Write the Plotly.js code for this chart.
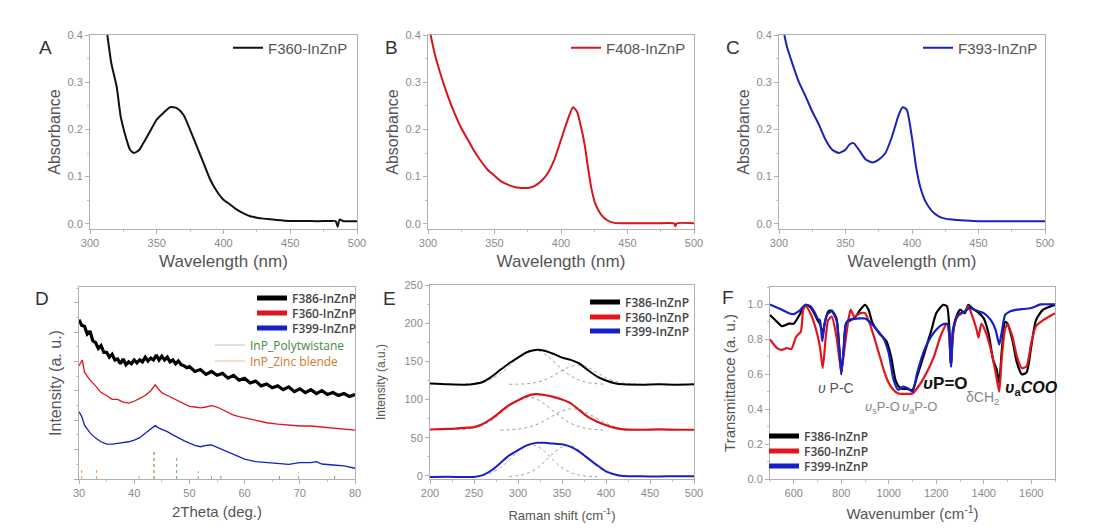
<!DOCTYPE html>
<html><head><meta charset="utf-8">
<script src="https://cdn.plot.ly/plotly-3.0.1.min.js"></script>
<style>html,body{margin:0;padding:0;background:#fff}#plot{width:1106px;height:531px}</style>
</head><body><div id="plot"></div>
<script>
// ---------- Panel A/B/C : UV-vis absorbance ----------
const absA_wl = [313,316,320,323,326,330,333,337,340,345,350,355,360,365,370,375,380,385,390,395,400,405,410,415,420,425,430,440,450,460,470,480,484,485.5,487,490,500];
const absA_val = [0.40,0.34,0.29,0.227,0.192,0.157,0.150,0.157,0.171,0.196,0.221,0.235,0.247,0.245,0.231,0.199,0.164,0.129,0.094,0.069,0.051,0.041,0.030,0.022,0.016,0.013,0.011,0.008,0.006,0.006,0.0056,0.006,0.0056,-0.006,0.009,0.0056,0.0056];
const absB_wl = [302,305,310,315,320,325,330,335,340,345,350,355,360,365,370,375,380,385,390,395,400,405,409,412,415,418,420,423,426,430,435,440,450,470,485,486,487,500];
const absB_val = [0.40,0.361,0.312,0.270,0.234,0.203,0.178,0.153,0.132,0.114,0.102,0.090,0.083,0.078,0.076,0.076,0.080,0.090,0.107,0.136,0.178,0.220,0.247,0.238,0.206,0.164,0.125,0.073,0.041,0.020,0.007,0.002,0.001,0.001,0.001,-0.005,0.001,0.001];
const absC_wl = [304,306,310,315,320,325,330,335,340,345,350,353,356,360,365,370,375,380,385,390,393,396,400,403,406,410,415,420,425,430,440,450,500];
const absC_val = [0.40,0.375,0.34,0.30,0.27,0.238,0.21,0.178,0.157,0.150,0.157,0.168,0.171,0.157,0.137,0.130,0.136,0.150,0.185,0.231,0.247,0.242,0.182,0.122,0.080,0.048,0.027,0.016,0.011,0.009,0.007,0.0056,0.0056];

// ---------- Panel D : XRD ----------
const xrdK_theta = [30,30.5,31,31.5,32,32.5,33,33.5,34,34.5,35,35.5,36,36.5,37,37.5,38,38.5,39,39.5,40,40.5,41,41.5,42,42.5,43,43.5,44,44.5,45,45.5,46,46.5,47,47.5,48,48.5,49,49.5,50,51,52,53,54,55,56,57,58,59,60,61,62,63,64,65,66,67,68,69,70,71,72,73,74,75,76,77,78,79,80];
const xrdK_int = [83,80,79.5,75.5,77,72,71,68,69.5,66,66,63.5,65,62,62.5,60,62.5,59.5,61,60,62,60.5,62,61,63.5,61.5,63,62,64.5,62,64,62,63.5,61,62,60,61.5,59.5,59,58,58.5,56,57,54.5,56,54,55,52.5,54,51.5,52.5,50,51,48.5,49.5,47.5,48.5,46.5,48,45.5,47,45,46.5,44.5,46,44,45,43.5,44.5,43,44];
const xrdR_theta = [30,30.6,31,32,33,34,35,36,37,38,39,40,41,42,43,43.8,44.5,45,46,47,48,49,50,51,52,53,54,55,56,57,58,59,60,62,64,66,68,70,72,74,76,78,80];
const xrdR_int = [59,62,55.5,51.5,48.5,45,43.5,41.5,41.5,40,39.5,40.5,42,43.5,46,49,46.5,45,43.5,42,40.5,39,37.8,37.5,37,37.5,38.2,37.5,36,34.5,33.3,32.5,31.8,30.5,29.3,28.6,28,27.6,27.6,27,26.6,26,25.5];
const xrdB_theta = [30,30.5,31,32,33,34,35,36,37,38,39,40,41,42,43,43.8,44.5,45,46,47,48,49,50,51,52,53,54,55,56,57,58,59,60,62,64,66,68,70,72,73,74,76,78,80];
const xrdB_int = [35,32.5,28,24,21.3,19.4,18.2,18.2,18.6,18.9,19.4,20.3,21.5,23.8,26,27.8,26.5,26,24.7,23,21.3,20,18.7,17.5,16.8,17.5,17.7,16.5,15.1,13.8,12.5,11.5,10.4,9,8.5,7.8,7.6,8.5,8.5,9,7.8,7.3,6.8,5.6];
const refPoly_theta = [43.6,47.7,51.6,55.7,66.3,76.3];
const refPoly_int = [15,12.5,4,2.5,2.2,2.2];
const refZB_theta = [30.5,33.2,40.9,43.6,54.0,69.8];
const refZB_int = [5.7,4.7,1.5,15,1.8,3.8];

// ---------- Panel E : Raman ----------
const ramK_shift = [200,220,240,250,260,270,280,290,300,310,320,330,340,350,360,370,380,390,400,410,420,440,460,480,500];
const ramK_int = [121,120,119.5,120.5,123,130,139,147.5,155,162,165,164,160,155,152,147,138,130,125,121.5,120,119.5,120,119.5,120];
const ramR_shift = [200,220,240,250,260,270,280,290,300,310,320,330,340,350,360,370,380,390,400,410,420,440,460,480,500];
const ramR_int = [60.8,61.5,63,64,68,75,84,93,99,104.5,107,106,103.6,100,95,86,77,71,66.4,63,61,60.5,61,60.5,60.5];
const ramB_shift = [200,220,240,250,260,270,280,290,300,310,320,330,340,350,360,370,380,390,400,410,420,440,460,480,500];
const ramB_int = [-1.3,-1.2,-1.3,-1.3,1,7.4,17,27,33.7,40,43.3,43.3,42.4,41.5,38,31.5,22.7,14,6,2,0,-0.5,-0.6,-0.5,-0.5];
const fitK1_shift = [240,250,260,270,280,290,300,310,320,330,340,350,360,370,380,390,400];
const fitK1_int = [120.3,121.1,123.1,127.1,134.2,144,154.7,162.8,164.9,160.1,150.6,139.8,131,125.2,122.1,120.7,120.2];
const fitK2_shift = [290,300,310,320,330,340,350,360,370,380,390,400,410,420,430,440];
const fitK2_int = [120,120.2,120.8,122.3,125.6,131.1,137.9,143.4,144.9,141.6,135.2,128.7,124,121.5,120.5,120.1];
const fitR1_shift = [230,240,250,260,270,280,290,300,310,320,330,340,350,360,370,380,390,400];
const fitR1_int = [60.4,61.2,63.1,66.7,72.8,81.3,90.8,99,102.9,101.2,94.4,85.1,76,68.9,64.3,61.8,60.7,60.2];
const fitR2_shift = [280,290,300,310,320,330,340,350,360,370,380,390,400,410,420,430,440];
const fitR2_int = [60.1,60.4,61.3,63.2,66.8,72.3,79,85,87.9,86.6,81.6,75,68.8,64.4,61.9,60.7,60.2];
const fitB1_shift = [240,250,260,270,280,290,300,310,320,330,340,350,360,370,380,390];
const fitB1_int = [-0.9,-0.5,0.8,4.2,10.8,21,32.3,39.9,39.9,32.3,21,10.8,4.2,0.8,-0.5,-0.9];
const fitB2_shift = [290,300,310,320,330,340,350,360,370,380,390,400,410,420,430];
const fitB2_int = [-0.6,0.4,3.2,9,18.3,29.4,38,39.6,33.4,22.7,12.3,5.1,1.3,-0.3,-0.9];

// ---------- Panel F : FTIR ----------
const irK_wn = [500,530,550,580,600,620,650,670,690,700,710,722,730,745,760,780,790,800,810,820,840,860,880,900,915,930,960,990,1010,1030,1050,1080,1100,1120,1150,1180,1200,1230,1245,1255,1262,1270,1280,1300,1320,1335,1350,1380,1400,1420,1440,1455,1465,1475,1490,1500,1520,1540,1560,1580,1600,1620,1650,1700];
const irK_T = [0.94,0.90,0.875,0.89,0.89,0.93,0.998,0.985,0.94,0.91,0.89,0.835,0.89,0.96,0.965,0.92,0.78,0.60,0.74,0.89,0.91,0.93,0.97,0.998,0.97,0.90,0.835,0.79,0.70,0.56,0.52,0.515,0.51,0.59,0.72,0.855,0.95,0.998,0.99,0.87,0.645,0.82,0.91,0.97,0.95,0.998,0.98,0.95,0.92,0.835,0.68,0.625,0.55,0.72,0.90,0.89,0.80,0.665,0.60,0.61,0.76,0.91,0.97,0.998];
const irR_wn = [500,530,550,570,590,610,630,640,650,670,690,710,722,735,745,760,780,800,815,830,840,855,880,900,920,950,980,1000,1020,1040,1070,1100,1130,1160,1190,1220,1245,1255,1262,1270,1290,1320,1335,1350,1370,1378,1390,1410,1430,1450,1465,1475,1490,1500,1520,1540,1560,1580,1600,1620,1650,1700];
const irR_T = [0.80,0.75,0.74,0.75,0.745,0.815,0.845,0.97,0.99,0.95,0.875,0.76,0.635,0.815,0.91,0.93,0.815,0.62,0.76,0.91,0.97,0.93,0.95,0.95,0.89,0.76,0.62,0.55,0.51,0.49,0.488,0.49,0.54,0.61,0.70,0.825,0.89,0.82,0.645,0.835,0.93,0.96,0.99,0.94,0.855,0.81,0.89,0.835,0.74,0.61,0.50,0.68,0.86,0.885,0.82,0.70,0.635,0.645,0.78,0.875,0.91,0.95];
const irB_wn = [500,550,580,600,620,650,670,690,700,710,720,730,740,760,780,790,800,810,820,830,850,880,900,920,950,980,1000,1020,1040,1060,1080,1100,1120,1150,1180,1200,1220,1240,1250,1260,1263,1270,1290,1320,1340,1360,1380,1400,1430,1450,1465,1475,1490,1510,1540,1560,1600,1640,1700];
const irB_T = [1.0,0.97,0.95,0.945,0.96,0.998,0.99,0.95,0.92,0.91,0.79,0.89,0.94,0.96,0.91,0.78,0.61,0.74,0.89,0.91,0.916,0.92,0.92,0.90,0.855,0.80,0.72,0.57,0.51,0.53,0.52,0.50,0.61,0.74,0.82,0.855,0.88,0.89,0.88,0.68,0.645,0.855,0.94,0.96,0.98,0.97,0.96,0.95,0.91,0.855,0.77,0.835,0.94,0.96,0.97,0.973,0.98,1.0,1.0];

// ---------- traces ----------
const traces = [];
function line(x,y,xa,ya,color,width,extra){
  return Object.assign({type:'scatter',mode:'lines',x:x,y:y,xaxis:xa,yaxis:ya,
    line:{color:color,width:width},showlegend:false,hoverinfo:'skip'},extra||{});
}
function smooth(color,width){return {line:{color:color,width:width,shape:'spline',smoothing:0.6}};}
function legendOnly(name,xa,ya,color,width,leg){
  return {type:'scatter',mode:'lines',x:[null],y:[null],xaxis:xa,yaxis:ya,name:name,
    line:{color:color,width:width},showlegend:true,legend:leg,hoverinfo:'skip'};
}
// A,B,C
traces.push(line(absA_wl,absA_val,'x','y','#111',2,Object.assign({name:'F360-InZnP',showlegend:true,legend:'legend'},smooth('#111',2))));
traces.push(line(absB_wl,absB_val,'x2','y2','#d8141b',2,Object.assign({name:'F408-InZnP',showlegend:true,legend:'legend2'},smooth('#d8141b',2))));
traces.push(line(absC_wl,absC_val,'x3','y3','#1a22b8',2,Object.assign({name:'F393-InZnP',showlegend:true,legend:'legend3'},smooth('#1a22b8',2))));
// D sticks
function sticks(xs,hs){const X=[],Y=[];xs.forEach((v,i)=>{X.push(v,v,null);Y.push(0,hs[i],null);});return [X,Y];}
const sp = sticks(refPoly_theta,refPoly_int), sz = sticks(refZB_theta,refZB_int);
traces.push(line(sp[0],sp[1],'x4','y4','#5a9a5a',1,{line:{color:'#6aa86a',width:1,dash:'dot'}}));
traces.push(line(sz[0],sz[1],'x4','y4','#d89a50',1,{line:{color:'#d89a50',width:1,dash:'dot'}}));
traces.push(line(xrdK_theta,xrdK_int,'x4','y4','#000',3.2));
traces.push(line(xrdR_theta,xrdR_int,'x4','y4','#e0161b',1.3));
traces.push(line(xrdB_theta,xrdB_int,'x4','y4','#1520c8',1.3));
traces.push(legendOnly('F386-InZnP','x4','y4','#000',5,'legend4'));
traces.push(legendOnly('F360-InZnP','x4','y4','#e0161b',5,'legend5'));
traces.push(legendOnly('F399-InZnP','x4','y4','#1520c8',5,'legend6'));
traces.push(legendOnly('InP_Polytwistane','x4','y4','#a8cfa8',1,'legend7'));
traces.push(legendOnly('InP_Zinc blende','x4','y4','#ecc090',1,'legend8'));
// E
const fitStyle = {color:'#a0a0a0',width:1,dash:'dot',shape:'spline'};
[[fitK1_shift,fitK1_int],[fitK2_shift,fitK2_int],[fitR1_shift,fitR1_int],[fitR2_shift,fitR2_int],[fitB1_shift,fitB1_int],[fitB2_shift,fitB2_int]].forEach(f=>{
  traces.push(line(f[0],f[1],'x5','y5','#999',1,{line:fitStyle}));
});
traces.push(line(ramK_shift,ramK_int,'x5','y5','#000',2,smooth('#000',2)));
traces.push(line(ramR_shift,ramR_int,'x5','y5','#d8141b',2.2,smooth('#d8141b',2.2)));
traces.push(line(ramB_shift,ramB_int,'x5','y5','#1520c8',2,smooth('#1520c8',2)));
traces.push(legendOnly('F386-InZnP','x5','y5','#000',5,'legend9'));
traces.push(legendOnly('F360-InZnP','x5','y5','#e0161b',5,'legend10'));
traces.push(legendOnly('F399-InZnP','x5','y5','#1520c8',5,'legend11'));
// F
traces.push(line(irK_wn,irK_T,'x6','y6','#000',2.2,smooth('#000',2.2)));
traces.push(line(irR_wn,irR_T,'x6','y6','#e0161b',2.2,smooth('#e0161b',2.2)));
traces.push(line(irB_wn,irB_T,'x6','y6','#1520c8',2.2,smooth('#1520c8',2.2)));
traces.push(legendOnly('F386-InZnP','x6','y6','#000',5,'legend12'));
traces.push(legendOnly('F360-InZnP','x6','y6','#e0161b',5,'legend13'));
traces.push(legendOnly('F399-InZnP','x6','y6','#1520c8',5,'legend14'));

// ---------- layout ----------
const W=1106,H=531;
const px = v=>v/W, py = v=>1-v/H;
const tickFont = {family:'Liberation Sans, Arial, sans-serif',size:11,color:'#8a8a8a'};
function ax(domain,range,dtick,minorDtick,anchor,title,titleSize,standoff,extra){
  return Object.assign({domain:domain,range:range,anchor:anchor,dtick:dtick,
    showline:true,mirror:true,linecolor:'#b0b0b0',linewidth:1,ticks:'outside',ticklen:4,tickcolor:'#b0b0b0',
    minor:{dtick:minorDtick,ticks:'outside',ticklen:2,tickcolor:'#c0c0c0'},
    showgrid:false,zeroline:false,tickfont:tickFont,
    title:{text:title,font:{family:'Liberation Sans, Arial, sans-serif',size:titleSize,color:'#555'},standoff:standoff}},extra||{});
}
const yTopDom=[py(229),py(35)], yBotDom=[py(479),py(287)];
const layout = {
  width:W,height:H,margin:{l:0,r:0,t:0,b:0},paper_bgcolor:'#fff',plot_bgcolor:'#fff',
  xaxis: ax([px(90),px(357)],[300,500],50,25,'y','Wavelength (nm)',17,6),
  yaxis: ax(yTopDom,[-0.011,0.4],0.1,0.05,'x','Absorbance',16,2,{tickformat:'.1f'}),
  xaxis2: ax([px(428),px(694)],[300,500],50,25,'y2','Wavelength (nm)',17,6),
  yaxis2: ax(yTopDom,[-0.011,0.4],0.1,0.05,'x2','Absorbance',16,2,{tickformat:'.1f'}),
  xaxis3: ax([px(779),px(1045)],[300,500],50,25,'y3','Wavelength (nm)',17,6),
  yaxis3: ax(yTopDom,[-0.011,0.4],0.1,0.05,'x3','Absorbance',16,2,{tickformat:'.1f'}),
  xaxis4: ax([px(79),px(355)],[30,80],10,5,'y4','2Theta (deg.)',15,8),
  yaxis4: ax(yBotDom,[0,100],15.3,7.65,'x4','Intensity (a. u.)',16,8,{showticklabels:false}),
  xaxis5: ax([px(430),px(694)],[200,500],50,25,'y5','Raman shift (cm<sup>-1</sup>)',13,12),
  yaxis5: ax([py(479),py(285)],[-4,250],50,25,'x5','Intensity (a.u.)',12,16),
  xaxis6: ax([px(770),px(1055)],[500,1700],200,100,'y6','Wavenumber (cm<sup>-1</sup>)',15,10),
  yaxis6: ax(yBotDom,[0,1.1],0.2,0.1,'x6','Transmittance (a. u.)',15,8,{tickformat:'.1f'}),
  annotations: [],
};
// legends
function leg(x,y,size,color,weight,family){
  return {x:px(x),y:py(y),xanchor:'left',yanchor:'middle',bgcolor:'rgba(0,0,0,0)',borderwidth:0,
    font:{family:family||'Liberation Sans, Arial, sans-serif',size:size,color:color,weight:weight||'normal'},itemwidth:30};
}
const boldLeg = 'Open Sans, Liberation Sans, sans-serif';
layout.legend = leg(228,48,15,'#555');
layout.legend2 = leg(566,48,15,'#555');
layout.legend3 = leg(918,48,15,'#555');
layout.legend4 = leg(252,298,12,'#444',600,boldLeg);
layout.legend5 = leg(252,313,12,'#444',600,boldLeg);
layout.legend6 = leg(252,328,12,'#444',600,boldLeg);
layout.legend7 = leg(210,345,12,'#3e8a3e','normal',boldLeg);
layout.legend8 = leg(210,361,12,'#d07a25','normal',boldLeg);
layout.legend9 = leg(585,302,12,'#444',600,boldLeg);
layout.legend10 = leg(585,317,12,'#444',600,boldLeg);
layout.legend11 = leg(585,331,12,'#444',600,boldLeg);
layout.legend12 = leg(764,436,12,'#444',600,boldLeg);
layout.legend13 = leg(764,451,12,'#444',600,boldLeg);
layout.legend14 = leg(764,466,12,'#444',600,boldLeg);

// panel letters
[['A',45,47],['B',391,47],['C',733,47],['D',42,298],['E',389,298],['F',728,297]].forEach(l=>{
  layout.annotations.push({text:l[0],x:px(l[1]),y:py(l[2]),xref:'paper',yref:'paper',showarrow:false,
    xanchor:'center',yanchor:'middle',font:{family:'Liberation Sans, Arial, sans-serif',size:19,color:'#333'}});
});
// FTIR band labels
const bandLabels = [
  {t:'<i>υ</i> P-C',x:778,y:0.521,s:14,c:'#555'},
  {t:'<i>υ</i><sub>s</sub>P-O',x:972,y:0.4125,s:13,c:'#888'},
  {t:'<i>υ</i><sub>a</sub>P-O',x:1130,y:0.4125,s:13,c:'#888'},
  {t:'<b><i>υ</i>P=O</b>',x:1241,y:0.55,s:17,c:'#111'},
  {t:'δCH<sub>2</sub>',x:1393,y:0.464,s:14,c:'#888'},
  {t:'<b><i>υ</i><sub>a</sub><i>COO</i></b>',x:1599,y:0.521,s:16,c:'#111'},
];
bandLabels.forEach(b=>{
  layout.annotations.push({text:b.t,x:b.x,y:b.y,xref:'x6',yref:'y6',showarrow:false,xanchor:'center',yanchor:'middle',
    font:{family:'Liberation Sans, Arial, sans-serif',size:b.s,color:b.c}});
});
Plotly.newPlot('plot',traces,layout,{staticPlot:true,displayModeBar:false});
</script></body></html>
